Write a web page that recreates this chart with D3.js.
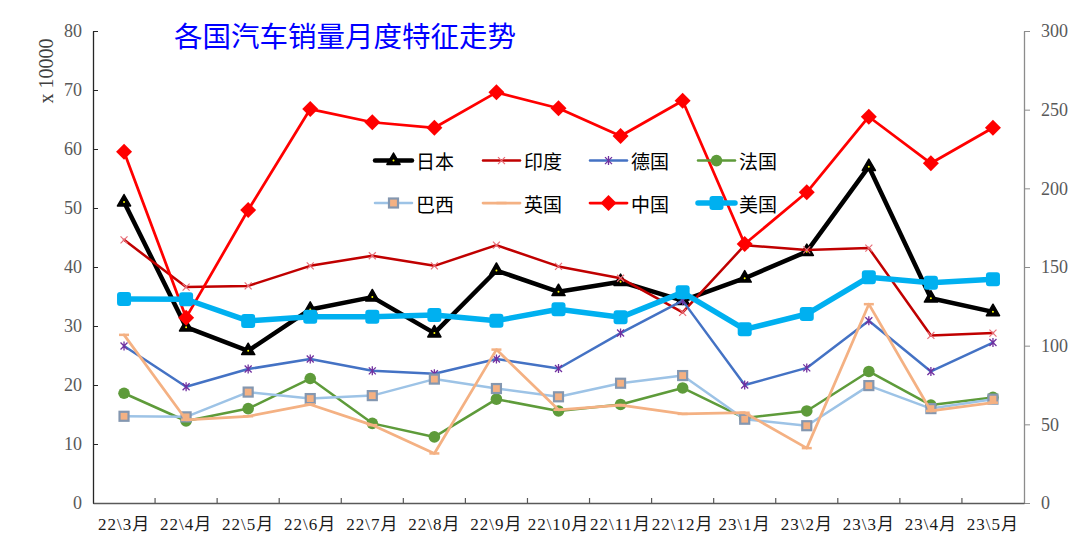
<!DOCTYPE html>
<html>
<head>
<meta charset="utf-8">
<script src="https://cdn.jsdelivr.net/npm/d3@7"></script>
<style>
  body { margin: 0; background: #fff; }
  svg { display: block; }
</style>
</head>
<body>
<div id="container"></div>
<script>
/* CONSTANTS AND GLOBALS */
const width = 1080,
  height = 556,
  plotLeft = 93,
  plotRight = 1024,
  plotTop = 31,
  plotBottom = 503;

const serif = "'Liberation Serif', 'Noto Sans CJK SC', serif";
const cjk = "'Noto Sans CJK SC', sans-serif";

/* DATA */
const months = ["22\\3月", "22\\4月", "22\\5月", "22\\6月", "22\\7月", "22\\8月", "22\\9月", "22\\10月",
  "22\\11月", "22\\12月", "23\\1月", "23\\2月", "23\\3月", "23\\4月", "23\\5月"];
// left axis, x 10000
const japan = [51.0, 29.8, 25.8, 32.8, 34.9, 28.8, 39.4, 35.8, 37.5, 34.3, 38.1, 42.6, 57.0, 34.7, 32.4];
const india = [44.6, 36.6, 36.8, 40.2, 41.9, 40.2, 43.7, 40.1, 38.1, 32.3, 43.7, 42.9, 43.2, 28.4, 28.8];
const germany = [26.6, 19.7, 22.7, 24.4, 22.4, 21.9, 24.4, 22.8, 28.8, 34.3, 20.0, 22.9, 30.9, 22.3, 27.2];
const france = [18.6, 13.9, 16.0, 21.1, 13.5, 11.2, 17.6, 15.6, 16.7, 19.5, 14.4, 15.6, 22.3, 16.6, 17.9];
const brazil = [14.7, 14.6, 18.8, 17.7, 18.2, 21.0, 19.4, 18.0, 20.3, 21.6, 14.2, 13.1, 19.9, 16.0, 17.6];
const uk = [28.5, 14.1, 14.7, 16.7, 13.2, 8.4, 26.0, 15.8, 16.6, 15.1, 15.3, 9.3, 33.7, 15.6, 17.0];
// right axis
const china = [223.3, 117.8, 186.2, 250.4, 242.0, 238.5, 261.0, 250.9, 233.3, 255.7, 164.6, 197.5, 245.5, 215.9, 238.5];
const usa = [129.7, 129.5, 115.7, 118.4, 118.4, 119.5, 115.9, 123.1, 118.0, 133.9, 110.4, 120.1, 143.5, 140.0, 142.2];

const leftTicks = [0, 10, 20, 30, 40, 50, 60, 70, 80];
const rightTicks = [0, 50, 100, 150, 200, 250, 300];

const series = [
  { name: "日本", values: japan, axis: "left", color: "#000000", lw: 4.5, marker: "triangle" },
  { name: "印度", values: india, axis: "left", color: "#C00000", lw: 2.5, marker: "x" },
  { name: "德国", values: germany, axis: "left", color: "#4472C4", lw: 2.5, marker: "star" },
  { name: "法国", values: france, axis: "left", color: "#5E9B3A", lw: 2.5, marker: "circle" },
  { name: "巴西", values: brazil, axis: "left", color: "#9DC3E6", lw: 2.5, marker: "square" },
  { name: "英国", values: uk, axis: "left", color: "#F4B183", lw: 2.75, marker: "dash" },
  { name: "中国", values: china, axis: "right", color: "#FF0000", lw: 2.75, marker: "diamond" },
  { name: "美国", values: usa, axis: "right", color: "#00B0F0", lw: 5.5, marker: "bigsquare" }
];

const svg = d3.select("#container")
  .append("svg")
  .attr("width", width)
  .attr("height", height)
  .style("background-color", "#fff");

/* SCALES */
const xScale = d3.scaleBand()
  .domain(months)
  .range([plotLeft, plotRight]);
const cx = m => xScale(m) + xScale.bandwidth() / 2;

const yLeft = d3.scaleLinear().domain([0, 80]).range([plotBottom, plotTop]);
const yRight = d3.scaleLinear().domain([0, 300]).range([plotBottom, plotTop]);

/* AXES */
const gl = svg.append("g")
  .attr("class", "y-axis-left")
  .attr("transform", `translate(${plotLeft},0)`)
  .call(d3.axisLeft(yLeft).tickValues(leftTicks).tickSize(-5).tickSizeOuter(0).tickPadding(11));
gl.select(".domain").attr("stroke", "#262626").attr("stroke-width", 1.3);
gl.selectAll(".tick line").attr("stroke", "#262626");
gl.selectAll("text").style("font-family", serif).style("font-size", "18px").attr("fill", "#595959");

const gr = svg.append("g")
  .attr("class", "y-axis-right")
  .attr("transform", `translate(${plotRight},0)`)
  .call(d3.axisRight(yRight).tickValues(rightTicks).tickSize(6).tickSizeOuter(0).tickPadding(11));
gr.select(".domain").attr("stroke", "#8c8c8c").attr("stroke-width", 1.3);
gr.selectAll(".tick line").attr("stroke", "#8c8c8c");
gr.selectAll("text").style("font-family", serif).style("font-size", "18px").attr("fill", "#595959");

const gx = svg.append("g")
  .attr("class", "x-axis")
  .attr("transform", `translate(0,${plotBottom})`)
  .call(d3.axisBottom(xScale).tickSize(0).tickPadding(15));
gx.select(".domain").attr("stroke", "#595959").attr("stroke-width", 1.5);
gx.selectAll("text")
  .style("font-family", serif)
  .style("font-size", "17px")
  .style("letter-spacing", "1px")
  .attr("fill", "#1a1a1a");
// category boundary ticks pointing up
gx.selectAll(".cat-tick")
  .data(months.slice(1))
  .join("line")
  .attr("class", "cat-tick")
  .attr("x1", d => xScale(d))
  .attr("x2", d => xScale(d))
  .attr("y1", 0)
  .attr("y2", -5)
  .attr("stroke", "#595959")
  .attr("stroke-width", 1.2);

/* MARKERS */
function drawMarker(g, s) {
  switch (s.marker) {
    case "triangle":
      g.append("path").attr("d", d3.symbol(d3.symbolTriangle, 75)()).attr("fill", "#000")
        .attr("stroke", "#000").attr("stroke-width", 1.5).attr("stroke-linejoin", "round");
      g.append("circle").attr("r", 1).attr("fill", "#ffff00");
      break;
    case "x":
      g.append("path").attr("d", "M-3.5,-3.5L3.5,3.5M-3.5,3.5L3.5,-3.5")
        .attr("stroke", "#E8707A").attr("stroke-width", 1.2);
      break;
    case "star":
      g.append("path").attr("d", "M-3.5,-3.5L3.5,3.5M-3.5,3.5L3.5,-3.5M0,-4.5L0,4.5")
        .attr("stroke", "#7030A0").attr("stroke-width", 1.3);
      break;
    case "circle":
      g.append("circle").attr("r", 5.8).attr("fill", s.color);
      break;
    case "square":
      g.append("rect").attr("x", -4.5).attr("y", -4.5).attr("width", 9).attr("height", 9)
        .attr("fill", "#F4B183").attr("stroke", "#8497B0").attr("stroke-width", 2.2);
      break;
    case "dash":
      g.append("path").attr("d", "M-5,0L5,0").attr("stroke", s.color).attr("stroke-width", 2.5);
      break;
    case "diamond":
      g.append("path").attr("d", "M0,-8L8,0L0,8L-8,0Z").attr("fill", s.color);
      break;
    case "bigsquare":
      g.append("rect").attr("x", -7).attr("y", -7).attr("width", 14).attr("height", 14)
        .attr("rx", 3).attr("fill", s.color);
      break;
  }
}

/* LINES */
series.forEach(s => {
  const yScale = s.axis === "left" ? yLeft : yRight;
  const pts = months.map((m, i) => [cx(m), yScale(s.values[i])]);
  const g = svg.append("g").attr("class", "series");
  g.append("path")
    .attr("d", d3.line()(pts))
    .attr("fill", "none")
    .attr("stroke", s.color)
    .attr("stroke-width", s.lw)
    .attr("stroke-linejoin", "round")
    .attr("stroke-linecap", "round");
  g.selectAll(".mk")
    .data(pts)
    .join("g")
    .attr("class", "mk")
    .attr("transform", d => `translate(${d[0]},${d[1]})`)
    .each(function () { drawMarker(d3.select(this), s); });
});

/* LEGEND */
const legendX = [375, 483, 590, 698];
const legendY = [160.6, 203];
const legend = svg.append("g").attr("class", "legend");
series.forEach((s, i) => {
  const x0 = legendX[i % 4], y0 = legendY[Math.floor(i / 4)];
  const item = legend.append("g").attr("transform", `translate(${x0},${y0})`);
  item.append("line")
    .attr("x1", 0).attr("x2", 37).attr("y1", 0).attr("y2", 0)
    .attr("stroke", s.color).attr("stroke-width", s.lw).attr("stroke-linecap", "round");
  const mk = item.append("g").attr("transform", "translate(18.5,0)");
  drawMarker(mk, s);
  item.append("text")
    .attr("x", 41).attr("y", 0)
    .attr("dominant-baseline", "central")
    .style("font-family", cjk)
    .style("font-size", "19px")
    .attr("fill", "#000")
    .text(s.name);
});

/* TITLES */
svg.append("text")
  .attr("x", 345).attr("y", 34)
  .attr("text-anchor", "middle")
  .attr("dominant-baseline", "central")
  .style("font-family", cjk)
  .style("font-size", "28.5px")
  .attr("fill", "#0000FF")
  .text("各国汽车销量月度特征走势");

svg.append("text")
  .attr("transform", "translate(46,71) rotate(-90)")
  .attr("text-anchor", "middle")
  .attr("dominant-baseline", "central")
  .style("font-family", serif)
  .style("font-size", "20px")
  .attr("fill", "#404040")
  .text("x 10000");
</script>
</body>
</html>
